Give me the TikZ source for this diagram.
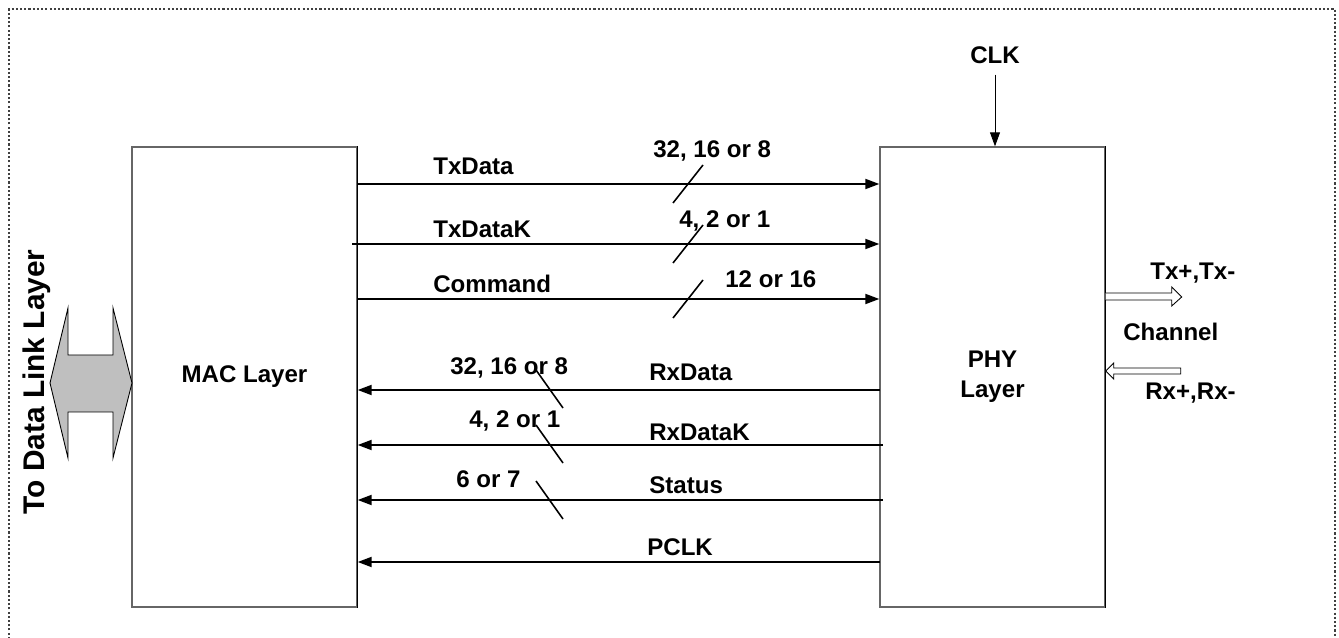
\documentclass[tikz,border=0pt]{standalone}
\usepackage{fontspec}
\setmainfont{Liberation Sans}
\usetikzlibrary{arrows.meta}
\begin{document}
\begin{tikzpicture}[x=0.02cm, y=-0.02cm, >={Triangle[length=0.28cm,width=0.2cm]},
    layer/.style={draw=black!60, line width=0.8pt, minimum width=4.5cm, minimum height=9.2cm, align=center, font=\fontsize{13.7}{17}\selectfont\bfseries},
    lbl/.style={anchor=base west, inner sep=0pt, font=\fontsize{13.7}{17}\selectfont\bfseries},
    sig/.style={->, line width=1.1pt},
    bus/.style={line width=0.9pt},
    hollow/.style={line width=0.5pt, fill=white}]

    \useasboundingbox (0,0) rectangle (1339,638);

    % Rahmen
    \draw[black!75, line width=1.2pt, dash pattern=on 1.2pt off 1.2pt] (9,660) -- (9,9) -- (1335,9) -- (1335,660);

    % Schichten
    \node[layer] (mac) at (244.5,377) {MAC Layer};
    \node[layer] (phy) at (992.5,377) {PHY\\Layer};
    \draw[line width=0.8pt] (mac.north east) -- (mac.south east);
    \draw[line width=0.8pt] (phy.north east) -- (phy.south east);

    % Anschluss Data Link Layer
    \draw[fill=black!25, line width=0.5pt] (50,383) -- (68,308) -- (68,355) -- (113,355) -- (113,308) -- (132,383)
        -- (113,458) -- (113,412) -- (68,412) -- (68,458) -- cycle;
    \node[lbl, anchor=base, rotate=90, font=\fontsize{17}{20}\selectfont\bfseries] (dll) at (44.5,382) {To Data Link Layer};

    % Takt
    \node[lbl, anchor=base] (clk) at (995,64) {CLK};
    \draw[->, line width=0.5pt] ([yshift=-0.2cm]clk.south) -- (clk.south |- phy.north);

    % Sendesignale
    \coordinate (txd) at (357,184);
    \coordinate (txk) at (352,244);
    \coordinate (cmd) at (357,299);
    \draw[sig] (txd) -- (txd -| phy.west);
    \draw[sig] (txk) -- (txk -| phy.west);
    \draw[sig] (cmd) -- (cmd -| phy.west);
    \node[lbl] (txdlbl) at (433,175) {TxData};
    \node[lbl] (txklbl) at (433,238) {TxDataK};
    \node[lbl] (cmdlbl) at (433,293) {Command};
    \node[lbl] (txdw) at (653,158) {32, 16 or 8};
    \node[lbl] (txkw) at (679,228) {4, 2 or 1};
    \node[lbl] (cmdw) at (725,288) {12 or 16};
    \draw[bus] (673,203) -- (703,165);
    \draw[bus] (673,263) -- (703,225);
    \draw[bus] (673,318) -- (703,280);

    % Empfangssignale
    \coordinate (rxd) at (880,390);
    \coordinate (rxk) at (883,445);
    \coordinate (sts) at (883,500);
    \coordinate (pck) at (880,562);
    \draw[sig] (rxd) -- (rxd -| mac.east);
    \draw[sig] (rxk) -- (rxk -| mac.east);
    \draw[sig] (sts) -- (sts -| mac.east);
    \draw[sig] (pck) -- (pck -| mac.east);
    \node[lbl] (rxdlbl) at (649,381) {RxData};
    \node[lbl] (rxklbl) at (649,440) {RxDataK};
    \node[lbl] (stslbl) at (649,494) {Status};
    \node[lbl] (pcklbl) at (647,555) {PCLK};
    \node[lbl] (rxdw) at (450,375) {32, 16 or 8};
    \node[lbl] (rxkw) at (469,428) {4, 2 or 1};
    \node[lbl] (stsw) at (456,487) {6 or 7};
    \draw[bus] (536,370) -- (563,408);
    \draw[bus] (536,425) -- (563,463);
    \draw[bus] (536,481) -- (563,519);

    % Kanal
    \draw[hollow] (phy.east |- 0,293) -- ++(66,0) -- ++(0,-6) -- ++(10,10) -- ++(-10,9) -- ++(0,-6) -- (phy.east |- 0,300);
    \draw[hollow] (phy.east |- 0,371) -- ++(8,-8) -- ++(0,5) -- ++(67,0) -- ++(0,6) -- ++(-67,0) -- ++(0,5) -- cycle;
    \node[lbl] (txp) at (1150,280) {Tx+,Tx-};
    \node[lbl] (chan) at (1123,341) {Channel};
    \node[lbl] (rxp) at (1145,399) {Rx+,Rx-};

\end{tikzpicture}
\end{document}
